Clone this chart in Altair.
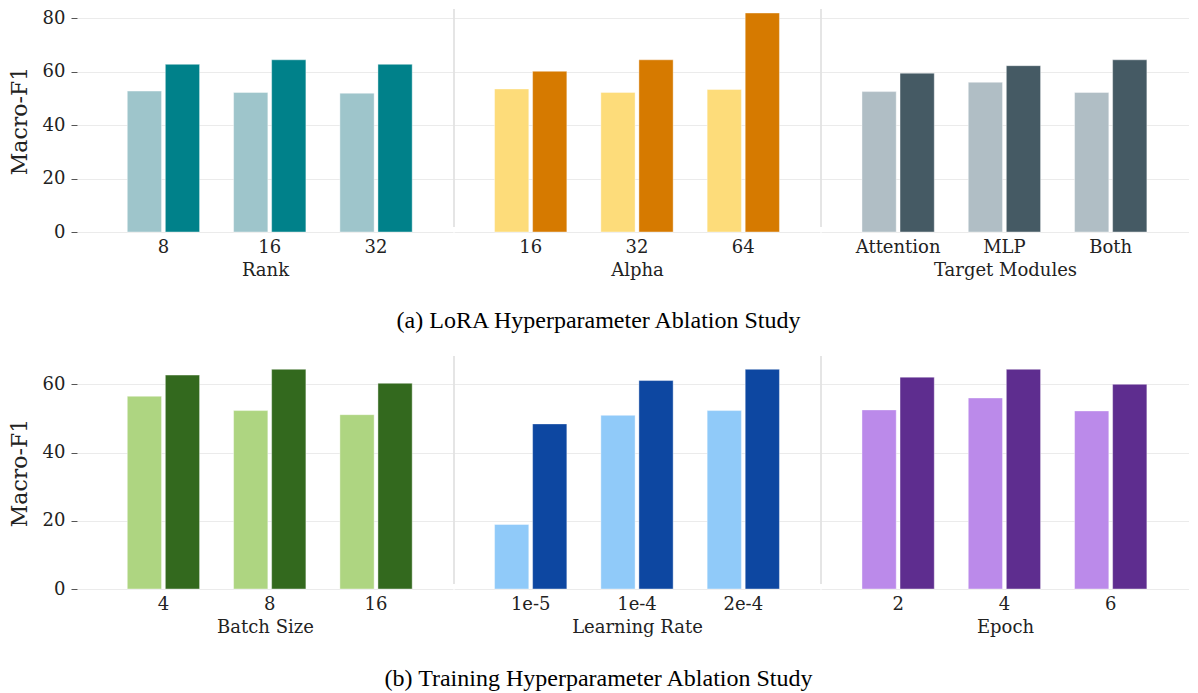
import altair as alt
import pandas as pd

SERIES = ["Series 1", "Series 2"]

rank_cats = ["8", "16", "32"]
rank_s1 = [52.7, 52.2, 51.9]
rank_s2 = [62.7, 64.4, 62.7]

alpha_cats = ["16", "32", "64"]
alpha_s1 = [53.5, 52.2, 53.3]
alpha_s2 = [60.1, 64.4, 81.9]

target_cats = ["Attention", "MLP", "Both"]
target_s1 = [52.5, 56.0, 52.2]
target_s2 = [59.4, 62.2, 64.4]

batch_cats = ["4", "8", "16"]
batch_s1 = [56.5, 52.3, 51.1]
batch_s2 = [62.7, 64.4, 60.3]

lr_cats = ["1e-5", "1e-4", "2e-4"]
lr_s1 = [18.9, 50.9, 52.3]
lr_s2 = [48.4, 61.1, 64.4]

epoch_cats = ["2", "4", "6"]
epoch_s1 = [52.5, 56.0, 52.2]
epoch_s2 = [62.1, 64.4, 60.0]

top_ticks = [0, 20, 40, 60, 80]
bottom_ticks = [0, 20, 40, 60]

FONT = "DejaVu Serif"
TEXT = "#222222"
GRID = "#ebebeb"


def panel(cats, s1, s2, title, colors, width, height, ymax, ticks,
          first, pad_outer, align):
    df = pd.DataFrame({
        "cat": cats + cats,
        "series": [SERIES[0]] * len(cats) + [SERIES[1]] * len(cats),
        "value": s1 + s2,
    })
    if first:
        yaxis = alt.Axis(title="Macro-F1", values=ticks, grid=True, gridColor=GRID,
                         ticks=True, tickSize=6, tickColor="#555555", domain=False,
                         labelPadding=6, titlePadding=11, labelFont=FONT,
                         labelFontSize=18, labelColor=TEXT, titleFont=FONT,
                         titleFontSize=22, titleFontWeight="normal", titleColor=TEXT)
    else:
        yaxis = alt.Axis(title=None, values=ticks, grid=True, gridColor=GRID,
                         labels=False, ticks=False, domain=False)
    bars = alt.Chart(df).mark_bar(stroke="white", strokeWidth=0.8, strokeOpacity=0.5).encode(
        x=alt.X("cat:N", sort=cats, title=title,
                scale=alt.Scale(paddingInner=0.32, paddingOuter=pad_outer, align=align),
                axis=alt.Axis(labelAngle=0, ticks=False, domain=False, grid=False,
                              labelPadding=6, titlePadding=5, labelFont=FONT,
                              labelFontSize=18, labelColor=TEXT, titleFont=FONT,
                              titleFontSize=18, titleFontWeight="normal",
                              titleColor=TEXT)),
        xOffset=alt.XOffset("series:N", sort=SERIES,
                            scale=alt.Scale(paddingInner=0.1)),
        y=alt.Y("value:Q", scale=alt.Scale(domain=[0, ymax], nice=False, zero=True),
                axis=yaxis),
        color=alt.Color("series:N", scale=alt.Scale(domain=SERIES, range=colors),
                        legend=None),
    )
    layers = [bars]
    if not first:
        sep = alt.Chart(pd.DataFrame({"k": [0]})).mark_rule(
            color="#dddddd", strokeWidth=1.5).encode(
            x=alt.value(0), y=alt.value(0), y2=alt.value(height - 5))
        layers.append(sep)
    return alt.layer(*layers).properties(width=width, height=height)


TOP_H, TOP_MAX = 223, 83.4
BOT_H, BOT_MAX = 233, 68.3

row_a = alt.hconcat(
    panel(rank_cats, rank_s1, rank_s2, "Rank", ["#9ec5cb", "#00818a"],
          376, TOP_H, TOP_MAX, top_ticks, True, 0.4285, 0.552),
    panel(alpha_cats, alpha_s1, alpha_s2, "Alpha", ["#fddc7a", "#d67a00"],
          366, TOP_H, TOP_MAX, top_ticks, False, 0.3815, 0.5),
    panel(target_cats, target_s1, target_s2, "Target Modules", ["#b0bec5", "#455a64"],
          368, TOP_H, TOP_MAX, top_ticks, False, 0.391, 0.493),
    spacing=0,
).resolve_scale(color="independent").properties(
    title=alt.TitleParams("(a) LoRA Hyperparameter Ablation Study", orient="bottom",
                          anchor="middle", font="Liberation Serif", fontSize=24,
                          fontWeight="normal", color="black", offset=30))

row_b = alt.hconcat(
    panel(batch_cats, batch_s1, batch_s2, "Batch Size", ["#aed581", "#33691e"],
          376, BOT_H, BOT_MAX, bottom_ticks, True, 0.4285, 0.552),
    panel(lr_cats, lr_s1, lr_s2, "Learning Rate", ["#90caf9", "#0d47a1"],
          366, BOT_H, BOT_MAX, bottom_ticks, False, 0.3815, 0.5),
    panel(epoch_cats, epoch_s1, epoch_s2, "Epoch", ["#bb8aea", "#5e2d8f"],
          368, BOT_H, BOT_MAX, bottom_ticks, False, 0.391, 0.493),
    spacing=0,
).resolve_scale(color="independent").properties(
    title=alt.TitleParams("(b) Training Hyperparameter Ablation Study", orient="bottom",
                          anchor="middle", font="Liberation Serif", fontSize=24,
                          fontWeight="normal", color="black", offset=31))

chart = alt.vconcat(row_a, row_b, spacing=22).resolve_scale(
    color="independent").properties(
    padding={"left": 0, "top": 0, "right": 0, "bottom": 0}
).configure_view(stroke=None)

chart.save("out.html", embed_options={"renderer": "svg", "actions": False})
